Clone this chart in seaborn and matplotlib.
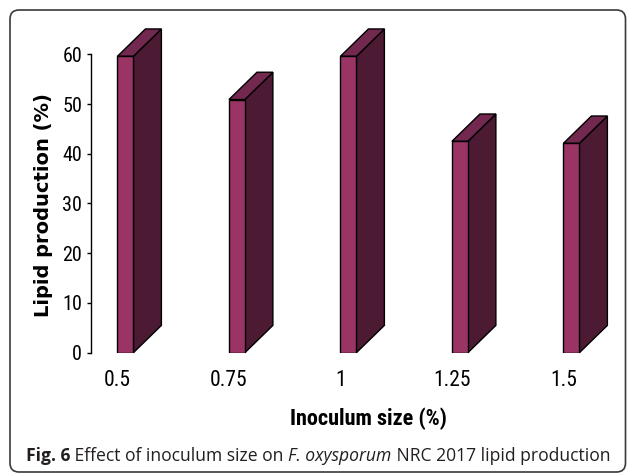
import matplotlib
matplotlib.use("Agg")
import matplotlib.pyplot as plt
from matplotlib import font_manager
from matplotlib.patches import Polygon, FancyBboxPatch
import seaborn as sns
import pandas as pd

# Inoculum sizes (%) and lipid production (%)
inoculum = ["0.5", "0.75", "1", "1.25", "1.5"]
lipid = [59.6, 50.9, 59.6, 42.5, 42.1]
y_ticks = [0, 10, 20, 30, 40, 50, 60]

front_color = "#9a3465"
side_color = "#4c1a33"
top_color = "#732850"

sns.set_theme(style="white")
available = {f.name for f in font_manager.fontManager.ttflist}
narrow = next((n for n in ["Liberation Sans Narrow", "Roboto Condensed", "Archivo Narrow"]
               if n in available), "Liberation Sans")
plt.rcParams["font.family"] = ["DejaVu Sans"]

fig = plt.figure(figsize=(6.3, 4.74), dpi=100)

# background layer in pixel units for the rounded frame and caption
bg = fig.add_axes([0, 0, 1, 1], zorder=0)
bg.set_xlim(0, 630)
bg.set_ylim(474, 0)
bg.axis("off")
frame = FancyBboxPatch((10, 10), 615.5, 462, boxstyle="round,pad=0,rounding_size=9",
                       facecolor="white", edgecolor="#3a3a3a", linewidth=1.2)
bg.add_patch(frame)

W, H = 630, 474
ax_left, ax_right = 90.7, 619.2
ax_bottom, ax_top = 352.7, 29.4
ax = fig.add_axes([ax_left / W, 1 - ax_bottom / H, (ax_right - ax_left) / W, (ax_bottom - ax_top) / H],
                  zorder=1)
ax.patch.set_alpha(0)

df = pd.DataFrame({"size": inoculum, "lipid": lipid})
bar_w = 0.143
sns.barplot(data=df, x="size", y="lipid", ax=ax, width=bar_w, color=front_color,
            saturation=1, edgecolor="black", linewidth=1.0, zorder=3)

# extruded side and top faces for the 3-D look
depth_x, depth_y = 0.251, 5.49
for p in ax.patches:
    p.set_x(p.get_x() + bar_w / 2)
    x0 = p.get_x()
    x1 = x0 + p.get_width()
    h = p.get_height()
    side = Polygon([(x1, 0), (x1 + depth_x, depth_y), (x1 + depth_x, h + depth_y), (x1, h)],
                   closed=True, facecolor=side_color, edgecolor="black", linewidth=1.0,
                   clip_on=False, zorder=2)
    top = Polygon([(x0, h), (x0 + depth_x, h + depth_y), (x1 + depth_x, h + depth_y), (x1, h)],
                  closed=True, facecolor=top_color, edgecolor="black", linewidth=1.0,
                  clip_on=False, zorder=2)
    ax.add_patch(side)
    ax.add_patch(top)

ax.set_xlim(-0.24, 4.5)
ax.set_ylim(0, 65)
ax.set_yticks(y_ticks)
ax.set_yticklabels([str(t) for t in y_ticks], fontsize=14.5, family=narrow, color="black")
ax.set_xticks(range(len(inoculum)))
ax.set_xticklabels(inoculum, fontsize=15.5, family=narrow, color="black")

for s in ["top", "right", "bottom"]:
    ax.spines[s].set_visible(False)
ax.spines["left"].set_bounds(0, 60)
ax.spines["left"].set_color("black")
ax.spines["left"].set_linewidth(1.0)
ax.tick_params(axis="y", left=True, length=3, width=1.0, pad=3.2, color="black")
ax.tick_params(axis="x", bottom=False, length=0, pad=12.5)

ax.set_xlabel("Inoculum size (%)", fontsize=16, family=narrow, fontweight="bold",
              color="black", va="center")
ax.xaxis.set_label_coords((368 - ax_left) / (ax_right - ax_left),
                          -(419 - ax_bottom) / (ax_bottom - ax_top))
ax.set_ylabel("Lipid production (%)", fontsize=14, fontweight="bold", color="black",
              va="center", ha="center", family="DejaVu Sans")
ax.yaxis.set_label_coords((43.5 - ax_left) / (ax_right - ax_left),
                          (ax_bottom - 205) / (ax_bottom - ax_top))

# caption with mixed weight / style
cap_font = "Open Sans" if "Open Sans" in available else "DejaVu Sans"
segments = [("Fig. 6", dict(fontweight="bold")),
            (" Effect of inoculum size on ", {}),
            ("F. oxysporum", dict(style="italic")),
            (" NRC 2017 lipid production", {})]
renderer = fig.canvas.get_renderer()
x = 26.0
cap_size = 12.65
for txt, kw in segments:
    t = bg.text(x, 461, txt, fontsize=cap_size, family=cap_font, color="#231f20",
                va="baseline", ha="left", **kw)
    # advance width including surrounding spaces
    probe = bg.text(0, 0, "|" + txt + "|", fontsize=cap_size, family=cap_font, **kw)
    bar_probe = bg.text(0, 0, "||", fontsize=cap_size, family=cap_font, **kw)
    wpx = probe.get_window_extent(renderer).width - bar_probe.get_window_extent(renderer).width
    probe.remove()
    bar_probe.remove()
    x += wpx

fig.savefig("out.png", dpi=100)
